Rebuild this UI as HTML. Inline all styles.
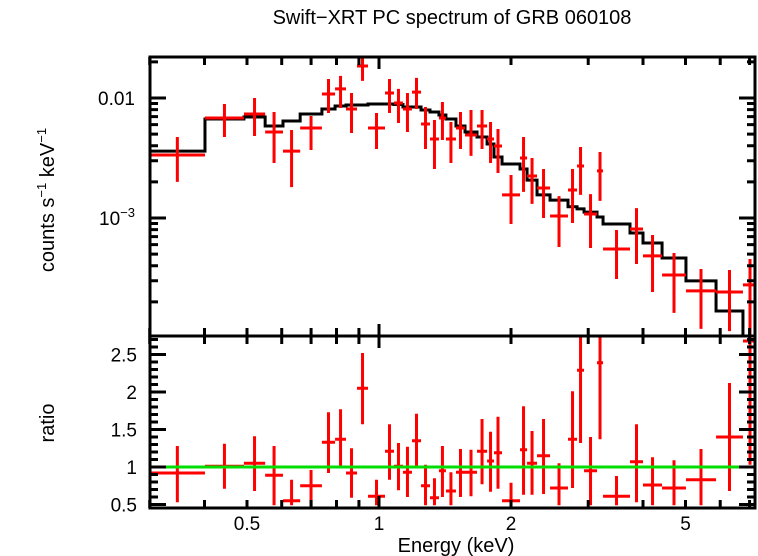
<!DOCTYPE html>
<html><head><meta charset="utf-8"><style>
html,body{margin:0;padding:0;background:#fff;}
svg{display:block;font-family:"Liberation Sans",sans-serif;}
</style></head><body>
<svg id="chart" width="758" height="556" viewBox="0 0 758 556">
<text x="452" y="24" font-size="20" text-anchor="middle">Swift−XRT PC spectrum of GRB 060108</text>
<text transform="translate(54,200) rotate(-90)" font-size="20" text-anchor="middle">counts s<tspan font-size="13" dy="-8">−1</tspan><tspan dy="8"> keV</tspan><tspan font-size="13" dy="-8">−1</tspan></text>
<text transform="translate(54,423) rotate(-90)" font-size="20" text-anchor="middle">ratio</text>
<text x="456" y="552" font-size="20" text-anchor="middle">Energy (keV)</text>
<g id="g"></g>
</svg>
<script>
const binEdges=[0.300,0.401,0.492,0.550,0.604,0.661,0.741,0.794,0.841,0.891,0.944,1.032,1.082,1.134,1.189,1.247,1.307,1.370,1.421,1.498,1.571,1.673,1.764,1.829,1.908,2.097,2.176,2.293,2.455,2.698,2.829,2.935,3.142,3.243,3.736,4.000,4.421,5.012,5.870,6.761,7.28];
// flux in units of 1e-3 counts/s/keV
const flux=[3.35,6.81,7.36,5.21,3.61,5.62,10.8,11.9,8.09,18.5,5.62,11.0,9.08,8.09,11.2,6.07,4.55,6.81,4.55,5.62,4.92,5.84,4.55,3.98,1.56,3.16,2.24,1.78,1.04,1.71,2.71,1.08,2.47,0.552,0.810,0.483,0.335,0.247,0.242,0.277];
const fluxLo=[2.0,4.73,4.82,2.87,1.81,3.69,7.50,8.25,5.11,13.9,3.76,7.50,6.19,5.21,8.09,3.76,2.56,4.47,2.87,3.76,3.29,3.76,2.87,2.37,0.891,1.65,1.31,1.0,0.573,0.908,1.56,0.562,1.39,0.310,0.414,0.242,0.162,0.119,0.114,0.096];
const fluxHi=[4.73,8.91,10.0,7.64,5.41,7.08,14.4,15.3,11.0,22.8,7.50,14.4,11.9,11.0,14.7,8.41,6.56,9.26,6.31,7.64,7.94,7.94,6.31,5.52,2.28,4.73,3.16,2.56,1.52,2.56,3.91,1.58,3.55,0.794,1.21,0.722,0.511,0.376,0.369,0.455];
const model=[3.61,6.68,6.95,5.84,6.43,7.36,8.09,8.58,8.75,8.75,8.91,8.91,8.83,8.41,8.41,7.94,7.64,7.21,6.68,5.84,5.21,4.73,4.14,3.22,2.82,2.56,2.07,1.56,1.41,1.24,1.19,1.12,1.02,0.891,0.750,0.619,0.464,0.299,0.168,0.05];
const ratio=[0.92,1.01,1.05,0.89,0.55,0.75,1.33,1.37,0.92,2.05,0.61,1.21,1.01,0.93,1.35,0.75,0.59,0.95,0.68,0.93,0.93,1.21,1.08,1.19,0.55,1.23,1.05,1.15,0.72,1.37,2.29,0.95,2.39,0.61,1.07,0.76,0.72,0.83,1.40,2.68];
const ratioLo=[0.53,0.71,0.68,0.49,0.49,0.49,0.92,1.0,0.59,1.57,0.49,0.83,0.69,0.60,1.0,0.49,0.49,0.60,0.49,0.60,0.61,0.77,0.67,0.71,0.49,0.63,0.63,0.64,0.49,0.72,1.32,0.49,1.37,0.49,0.53,0.49,0.49,0.49,0.68,1.03];
const ratioHi=[1.28,1.31,1.41,1.28,0.83,0.96,1.73,1.77,1.25,2.52,0.83,1.57,1.32,1.27,1.71,1.03,0.85,1.28,0.93,1.24,1.23,1.64,1.47,1.67,0.79,1.81,1.48,1.64,1.05,2.01,2.75,1.40,2.75,0.88,1.57,1.13,1.09,1.24,2.12,2.83];
const xTicks=[0.3,0.4,0.5,0.6,0.7,0.8,0.9,1,2,3,4,5,6,7];
const xLabels=[0.5,1,2,5];
const yMajor=[1e-3,1e-2];
const ratioTicks=[0.5,1,1.5,2,2.5];

const L=150,R=755,T1=57,B1=336,B2=508;
const X=e=>379+438.5*Math.log10(e);
const Y1=v=>98-120*(Math.log10(v*1e-3)+2);
const Y2=r=>467-75*(r-1);
const NS="http://www.w3.org/2000/svg";
const g=document.getElementById('g');
function el(t,a,p){const e=document.createElementNS(NS,t);for(const k in a)e.setAttribute(k,a[k]);(p||g).appendChild(e);return e;}
const defs=el('defs',{});
const c1=el('clipPath',{id:'c1'},defs);el('rect',{x:L,y:T1,width:R-L,height:B1-T1},c1);
const c2=el('clipPath',{id:'c2'},defs);el('rect',{x:L,y:B1,width:R-L,height:B2-B1},c2);
const g1=el('g',{'clip-path':'url(#c1)'});


const g2=el('g',{'clip-path':'url(#c2)'});



let d='';
for(let i=0;i<model.length;i++){const x0=X(binEdges[i]),x1=X(binEdges[i+1]),y=Y1(model[i]);d+=(i?'L':'M')+x0+','+y+'L'+x1+','+y;}
const mp=el('path',{d:d,fill:'none',stroke:'#000','stroke-width':3},g1);



for(let i=0;i<flux.length;i++){
  const x0=X(binEdges[i]),x1=X(binEdges[i+1]),xc=X(Math.sqrt(binEdges[i]*binEdges[i+1]));
  const p=el('path',{d:`M${x0},${Y1(flux[i])}H${x1}M${xc},${Y1(fluxLo[i])}V${Y1(fluxHi[i])}`,stroke:'#f00','stroke-width':3,fill:'none'},g1);
  
  
  const q=el('path',{d:`M${x0},${Y2(ratio[i])}H${x1}M${xc},${Y2(ratioLo[i])}V${Y2(ratioHi[i])}`,stroke:'#f00','stroke-width':3,fill:'none'},g2);
  
  
}
const gl=el('line',{x1:L,x2:R,y1:Y2(1),y2:Y2(1),stroke:'#0d0','stroke-width':3},g2);



let t='';
xTicks.forEach(e=>{const x=X(e),len=(e===1)?12:8;t+=`M${x},${T1}v${len}M${x},${B1}v-${len}M${x},${B1}v${len}M${x},${B2}v-${len}`;});
for(let dec=-4;dec<=-2;dec++)for(let m=1;m<=9;m++){const v=m*Math.pow(10,dec)*1e3;const y=Y1(v);if(y<T1+1||y>B1-1)continue;const len=m===1?16:8;t+=`M${L},${y}h${len}M${R},${y}h-${len}`;}
for(let r=0.5;r<=2.75;r+=0.1){const y=Y2(r);if(y>B2-1||y<B1+1)continue;const maj=Math.abs(r*2-Math.round(r*2))<0.01;const len=maj?16:8;t+=`M${L},${y}h${len}M${R},${y}h-${len}`;}
const tk=el('path',{d:t,stroke:'#000','stroke-width':3,fill:'none'});


const fr=el('path',{d:`M${L},${T1}H${R}V${B2}H${L}ZM${L},${B1}H${R}`,stroke:'#000','stroke-width':3,fill:'none'});



xLabels.forEach(e=>{const tx=el('text',{x:X(e),y:530,'font-size':19,'text-anchor':'middle'});tx.textContent=String(e);

});
ratioTicks.forEach(r=>{const tx=el('text',{x:137,y:Y2(r)+7,'font-size':19,'text-anchor':'end'});tx.textContent=String(r);

});
const ya=el('text',{x:135,y:Y1(10)+7,'font-size':19,'text-anchor':'end'});ya.textContent='0.01';


const yb=el('text',{x:135,y:Y1(1)+7,'font-size':19,'text-anchor':'end'});yb.innerHTML='10<tspan font-size="13" dy="-8">−3</tspan>';


</script>
</body></html>
